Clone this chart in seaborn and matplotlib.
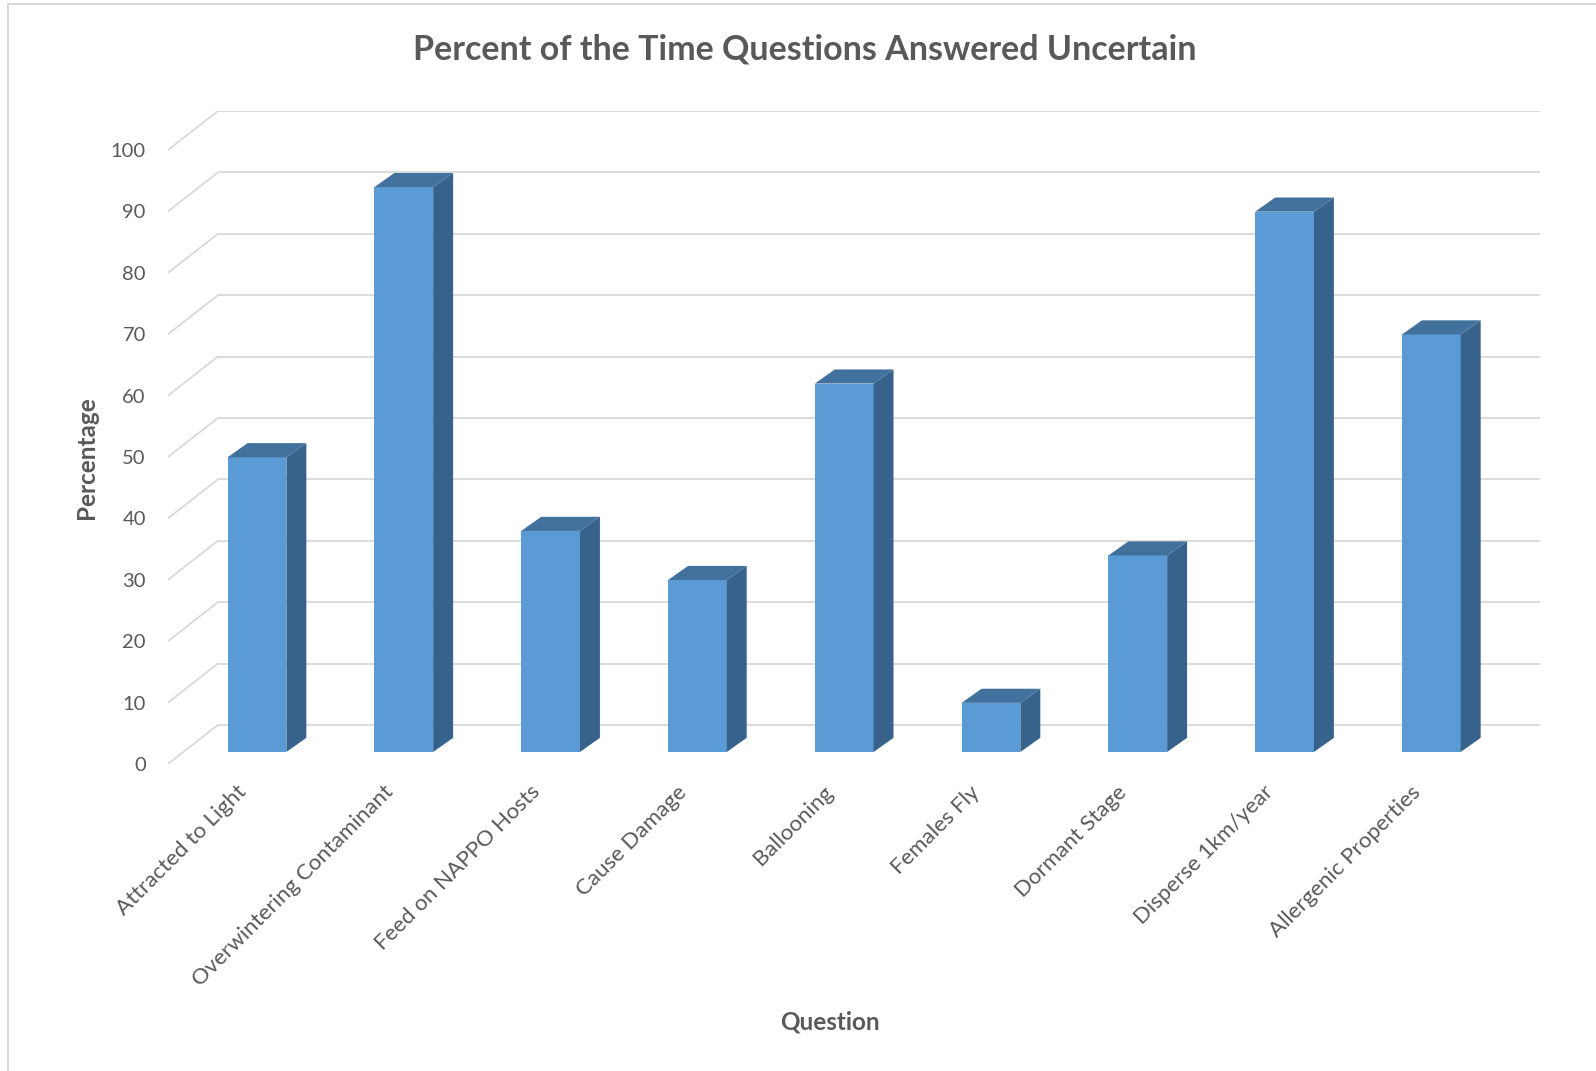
import matplotlib
matplotlib.use("Agg")
import matplotlib.pyplot as plt
import matplotlib.transforms as mtransforms
from matplotlib.patches import Polygon, Rectangle
import pandas as pd
import seaborn as sns

# data
questions = ["Attracted to Light", "Overwintering Contaminant", "Feed on NAPPO Hosts",
             "Cause Damage", "Ballooning", "Females Fly", "Dormant Stage",
             "Disperse 1km/year", "Allergenic Properties"]
percent = [48, 92, 36, 28, 60, 8, 32, 88, 68]
y_ticks = list(range(0, 101, 10))

df = pd.DataFrame({"Question": questions, "Percentage": percent})

front_col = "#5b9bd5"
top_col = "#41719c"
side_col = "#37628b"
grid_col = "#d9d9d9"
text_col = "#595959"

# fake 3d depth (data units)
bar_dx, bar_dy = 0.136, 2.3      # bar depth
back_dx, back_dy = 0.34, 4.4     # wall offset behind bar front
front_dy = -1.95                 # floor front edge

sns.set_style("white")
plt.rcParams["font.family"] = ["Lato", "DejaVu Sans"]

fig = plt.figure(figsize=(15.96, 10.71), dpi=100)
ax = fig.add_axes([0.1053, 0.2867, 0.9649 - 0.1053, 0.8964 - 0.2867])

sns.barplot(data=df, x="Question", y="Percentage", color=front_col, saturation=1,
            width=0.4, linewidth=0, ax=ax, zorder=3)

x_left = -0.606
x_back_left = x_left + back_dx
x_right = 8.74

# walls: back gridlines + diagonal side lines
for v in y_ticks:
    ax.plot([x_back_left, x_right], [v + back_dy, v + back_dy], color=grid_col,
            lw=1.3, zorder=1, solid_capstyle="butt")
    ax.plot([x_left, x_back_left], [v + front_dy, v + back_dy], color=grid_col,
            lw=1.3, zorder=1)

# sides and tops of the bars
for p in ax.patches[:len(percent)]:
    x0, w, h = p.get_x(), p.get_width(), p.get_height()
    side = Polygon([(x0 + w, 0), (x0 + w + bar_dx, bar_dy),
                    (x0 + w + bar_dx, h + bar_dy), (x0 + w, h)],
                   closed=True, facecolor=side_col, edgecolor="none", zorder=3)
    top = Polygon([(x0, h), (x0 + w, h), (x0 + w + bar_dx, h + bar_dy),
                   (x0 + bar_dx, h + bar_dy)],
                  closed=True, facecolor=top_col, edgecolor="none", zorder=3)
    ax.add_patch(side)
    ax.add_patch(top)

ax.set_xlim(x_left, x_right)
ax.set_ylim(front_dy, 100 + back_dy)

ax.set_yticks([v + front_dy for v in y_ticks])
ax.set_yticklabels([str(v) for v in y_ticks], fontsize=14.5, color=text_col)
ax.tick_params(axis="y", length=0, pad=16)

ax.set_xticks(range(len(questions)))
ax.set_xticklabels(questions, rotation=45, ha="right", va="center",
                   rotation_mode="anchor", fontsize=16, color=text_col)
ax.tick_params(axis="x", length=0, pad=18)
shift = mtransforms.ScaledTranslation(-0.14, 0, fig.dpi_scale_trans)
for lbl in ax.get_xticklabels():
    lbl.set_transform(lbl.get_transform() + shift)

ax.set_xlabel("")
ax.set_ylabel("")
for s in ax.spines.values():
    s.set_visible(False)
ax.patch.set_alpha(0)

fig.text(805 / 1596, 1 - 49 / 1071, "Percent of the Time Questions Answered Uncertain",
         ha="center", va="center", fontsize=24.5, fontweight="bold", color=text_col)
fig.text(87 / 1596, 1 - 458 / 1071, "Percentage", rotation=90, ha="center",
         va="center", fontsize=17.5, fontweight="bold", color=text_col)
fig.text(830 / 1596, 1 - 1022 / 1071, "Question", ha="center", va="center",
         fontsize=17.5, fontweight="bold", color=text_col)

# chart border (top and left visible)
fig.patches.append(Rectangle((8 / 1596, -0.05), 1.1, 1.05 - 4 / 1071,
                             transform=fig.transFigure, fill=False,
                             edgecolor="#d9d9d9", lw=1.5))

fig.savefig("out.png", dpi=100)
